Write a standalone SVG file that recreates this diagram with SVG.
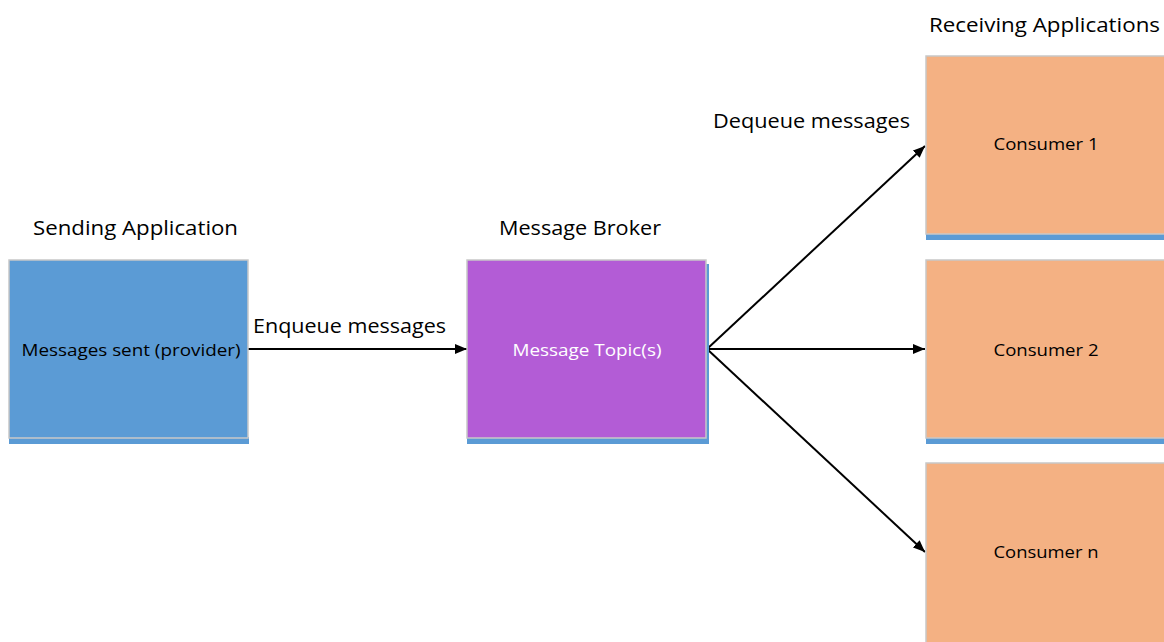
<svg xmlns="http://www.w3.org/2000/svg" width="1164" height="642" viewBox="0 0 1164 642">
<style>
.lbl{font-family:"Open Sans","Liberation Sans",sans-serif;font-size:20px;fill:#000}
.in{font-family:"Open Sans","Liberation Sans",sans-serif;font-size:16px;fill:#000;text-anchor:middle}
.box{stroke:#c8c8c8;stroke-width:1.5}
.strip{fill:#5b9bd5}
.con{stroke:#000;stroke-width:2;fill:none;marker-end:url(#ah)}
</style>
<defs>
<marker id="ah" viewBox="0 0 12 10" refX="12" refY="5" markerWidth="12" markerHeight="10" markerUnits="userSpaceOnUse" orient="auto">
<path d="M0,0 L12,5 L0,10 z" fill="#000"/>
</marker>
</defs>
<rect width="1164" height="642" fill="#fff"/>
<g id="connectors">
<line class="con" x1="248" y1="349" x2="467" y2="349"/>
<line class="con" x1="707" y1="349" x2="925" y2="146"/>
<line class="con" x1="707" y1="349" x2="925" y2="349"/>
<line class="con" x1="707" y1="349" x2="925" y2="552"/>
</g>
<g id="labels">
<text class="lbl" x="929" y="32" textLength="231" lengthAdjust="spacingAndGlyphs">Receiving Applications</text>
<text class="lbl" x="713" y="128" textLength="197" lengthAdjust="spacingAndGlyphs">Dequeue messages</text>
<text class="lbl" x="33" y="235" textLength="205" lengthAdjust="spacingAndGlyphs">Sending Application</text>
<text class="lbl" x="499" y="235" textLength="162" lengthAdjust="spacingAndGlyphs">Message Broker</text>
<text class="lbl" x="253" y="333" textLength="193" lengthAdjust="spacingAndGlyphs">Enqueue messages</text>
</g>
<g id="sender">
<rect class="strip" x="9" y="437" width="240" height="7"/>
<rect class="box" x="9" y="260" width="239" height="178" fill="#5b9bd5"/>
<text class="in" x="131" y="356" textLength="219" lengthAdjust="spacingAndGlyphs">Messages sent (provider)</text>
</g>
<g id="broker">
<rect class="strip" x="467" y="437" width="242" height="7"/>
<rect class="strip" x="706" y="264" width="3" height="180"/>
<rect class="box" x="467" y="260" width="239" height="178" fill="#b35cd6"/>
<text class="in" x="587" y="356" textLength="149" lengthAdjust="spacingAndGlyphs" style="fill:#fff">Message Topic(s)</text>
</g>
<g id="consumer1">
<rect class="strip" x="926" y="234" width="238" height="6"/>
<rect class="box" x="926" y="56" width="240" height="178" fill="#f4b183"/>
<text class="in" x="1046" y="150" textLength="105" lengthAdjust="spacingAndGlyphs">Consumer 1</text>
</g>
<g id="consumer2">
<rect class="strip" x="926" y="438" width="238" height="6"/>
<rect class="box" x="926" y="260" width="240" height="178" fill="#f4b183"/>
<text class="in" x="1046" y="356" textLength="105" lengthAdjust="spacingAndGlyphs">Consumer 2</text>
</g>
<g id="consumern">
<rect class="box" x="926" y="463" width="240" height="182" fill="#f4b183"/>
<text class="in" x="1046" y="558" textLength="105" lengthAdjust="spacingAndGlyphs">Consumer n</text>
</g>
</svg>
